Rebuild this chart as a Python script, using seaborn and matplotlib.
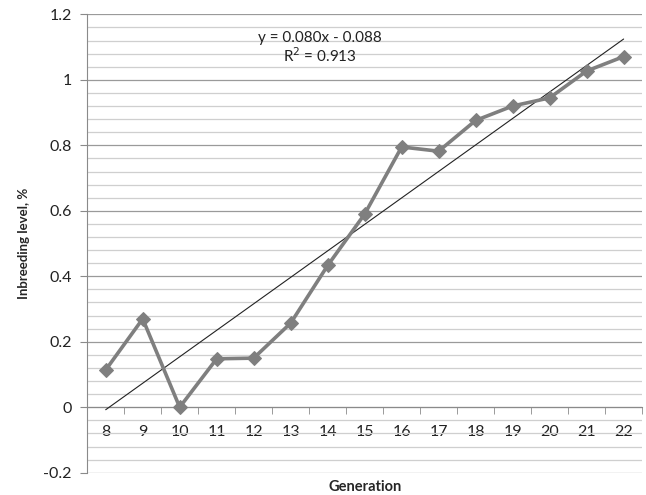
import numpy as np
import pandas as pd
import matplotlib.pyplot as plt
import seaborn as sns
from matplotlib.ticker import MultipleLocator, FuncFormatter

# values
generations = [8, 9, 10, 11, 12, 13, 14, 15, 16, 17, 18, 19, 20, 21, 22]
inbreeding = [0.114, 0.270, 0.0, 0.148, 0.150, 0.257, 0.433, 0.590,
              0.795, 0.782, 0.876, 0.920, 0.945, 1.027, 1.071]
trend_label = "y = 0.080x - 0.088"
r2_label = "R$^2$ = 0.913"

df = pd.DataFrame({"Generation": generations, "Inbreeding": inbreeding})

sns.set_style("white")
plt.rcParams['font.family'] = ['Lato', 'DejaVu Sans']

fig, ax = plt.subplots(figsize=(6.46, 4.95), dpi=100)
fig.subplots_adjust(left=0.135, right=0.994, top=0.971, bottom=0.045)

# gridlines (Excel style: major + minor)
ax.set_ylim(-0.2, 1.2)
ax.set_xlim(7.5, 22.5)
ax.yaxis.set_major_locator(MultipleLocator(0.2))
ax.yaxis.set_minor_locator(MultipleLocator(0.04))
ax.grid(axis='y', which='major', color='#9a9a9a', linewidth=0.9, zorder=0)
ax.grid(axis='y', which='minor', color='#cfcfcf', linewidth=0.9, zorder=0)
ax.grid(axis='x', visible=False)
ax.set_axisbelow(True)

# linear trend line (least squares over the data)
slope, intercept = np.polyfit(df["Generation"], df["Inbreeding"], 1)
trend = pd.DataFrame({"Generation": [generations[0], generations[-1]]})
trend["Trend"] = slope * trend["Generation"] + intercept
sns.lineplot(data=trend, x="Generation", y="Trend", color='#222222',
             linewidth=0.8, ax=ax, zorder=3)

# data series
sns.lineplot(data=df, x="Generation", y="Inbreeding", color='#7f7f7f',
             linewidth=2.6, marker='D', markersize=7, markeredgecolor='#7f7f7f',
             ax=ax, zorder=4)

ax.text(13.8, 1.128, trend_label, ha='center', va='center', fontsize=11, color='#222222')
ax.text(13.8, 1.073, r2_label, ha='center', va='center', fontsize=11, color='#222222')

# axes: x axis crosses at 0
for s in ['top', 'right']:
    ax.spines[s].set_visible(False)
ax.spines['bottom'].set_position(('data', 0))
ax.spines['bottom'].set_color('#8a8a8a')
ax.spines['left'].set_color('#8a8a8a')

ax.set_xticks(generations)
ax.set_xticklabels([str(g) for g in generations])
ax.set_xticks(np.arange(7.5, 23.0, 1.0), minor=True)
ax.tick_params(axis='x', which='major', length=0, pad=13, labelsize=11.5, colors='#222222')
ax.tick_params(axis='x', which='minor', length=5, direction='out', color='#8a8a8a', bottom=True)
ax.tick_params(axis='y', which='major', length=5, direction='out', color='#8a8a8a',
               left=True, pad=6, labelsize=11.5, labelcolor='#222222')
ax.tick_params(axis='y', which='minor', length=0)
ax.yaxis.set_major_formatter(FuncFormatter(lambda v, p: f"{v:g}" if abs(v) > 1e-9 else "0"))

ax.set_xlabel("")
ax.set_ylabel("Inbreeding level, %", fontsize=9.5, fontweight='bold', labelpad=10)
fig.text(0.565, 0.016, "Generation", ha='center', va='center', fontsize=10.5, fontweight='bold')

plt.savefig("out.png", dpi=100)
